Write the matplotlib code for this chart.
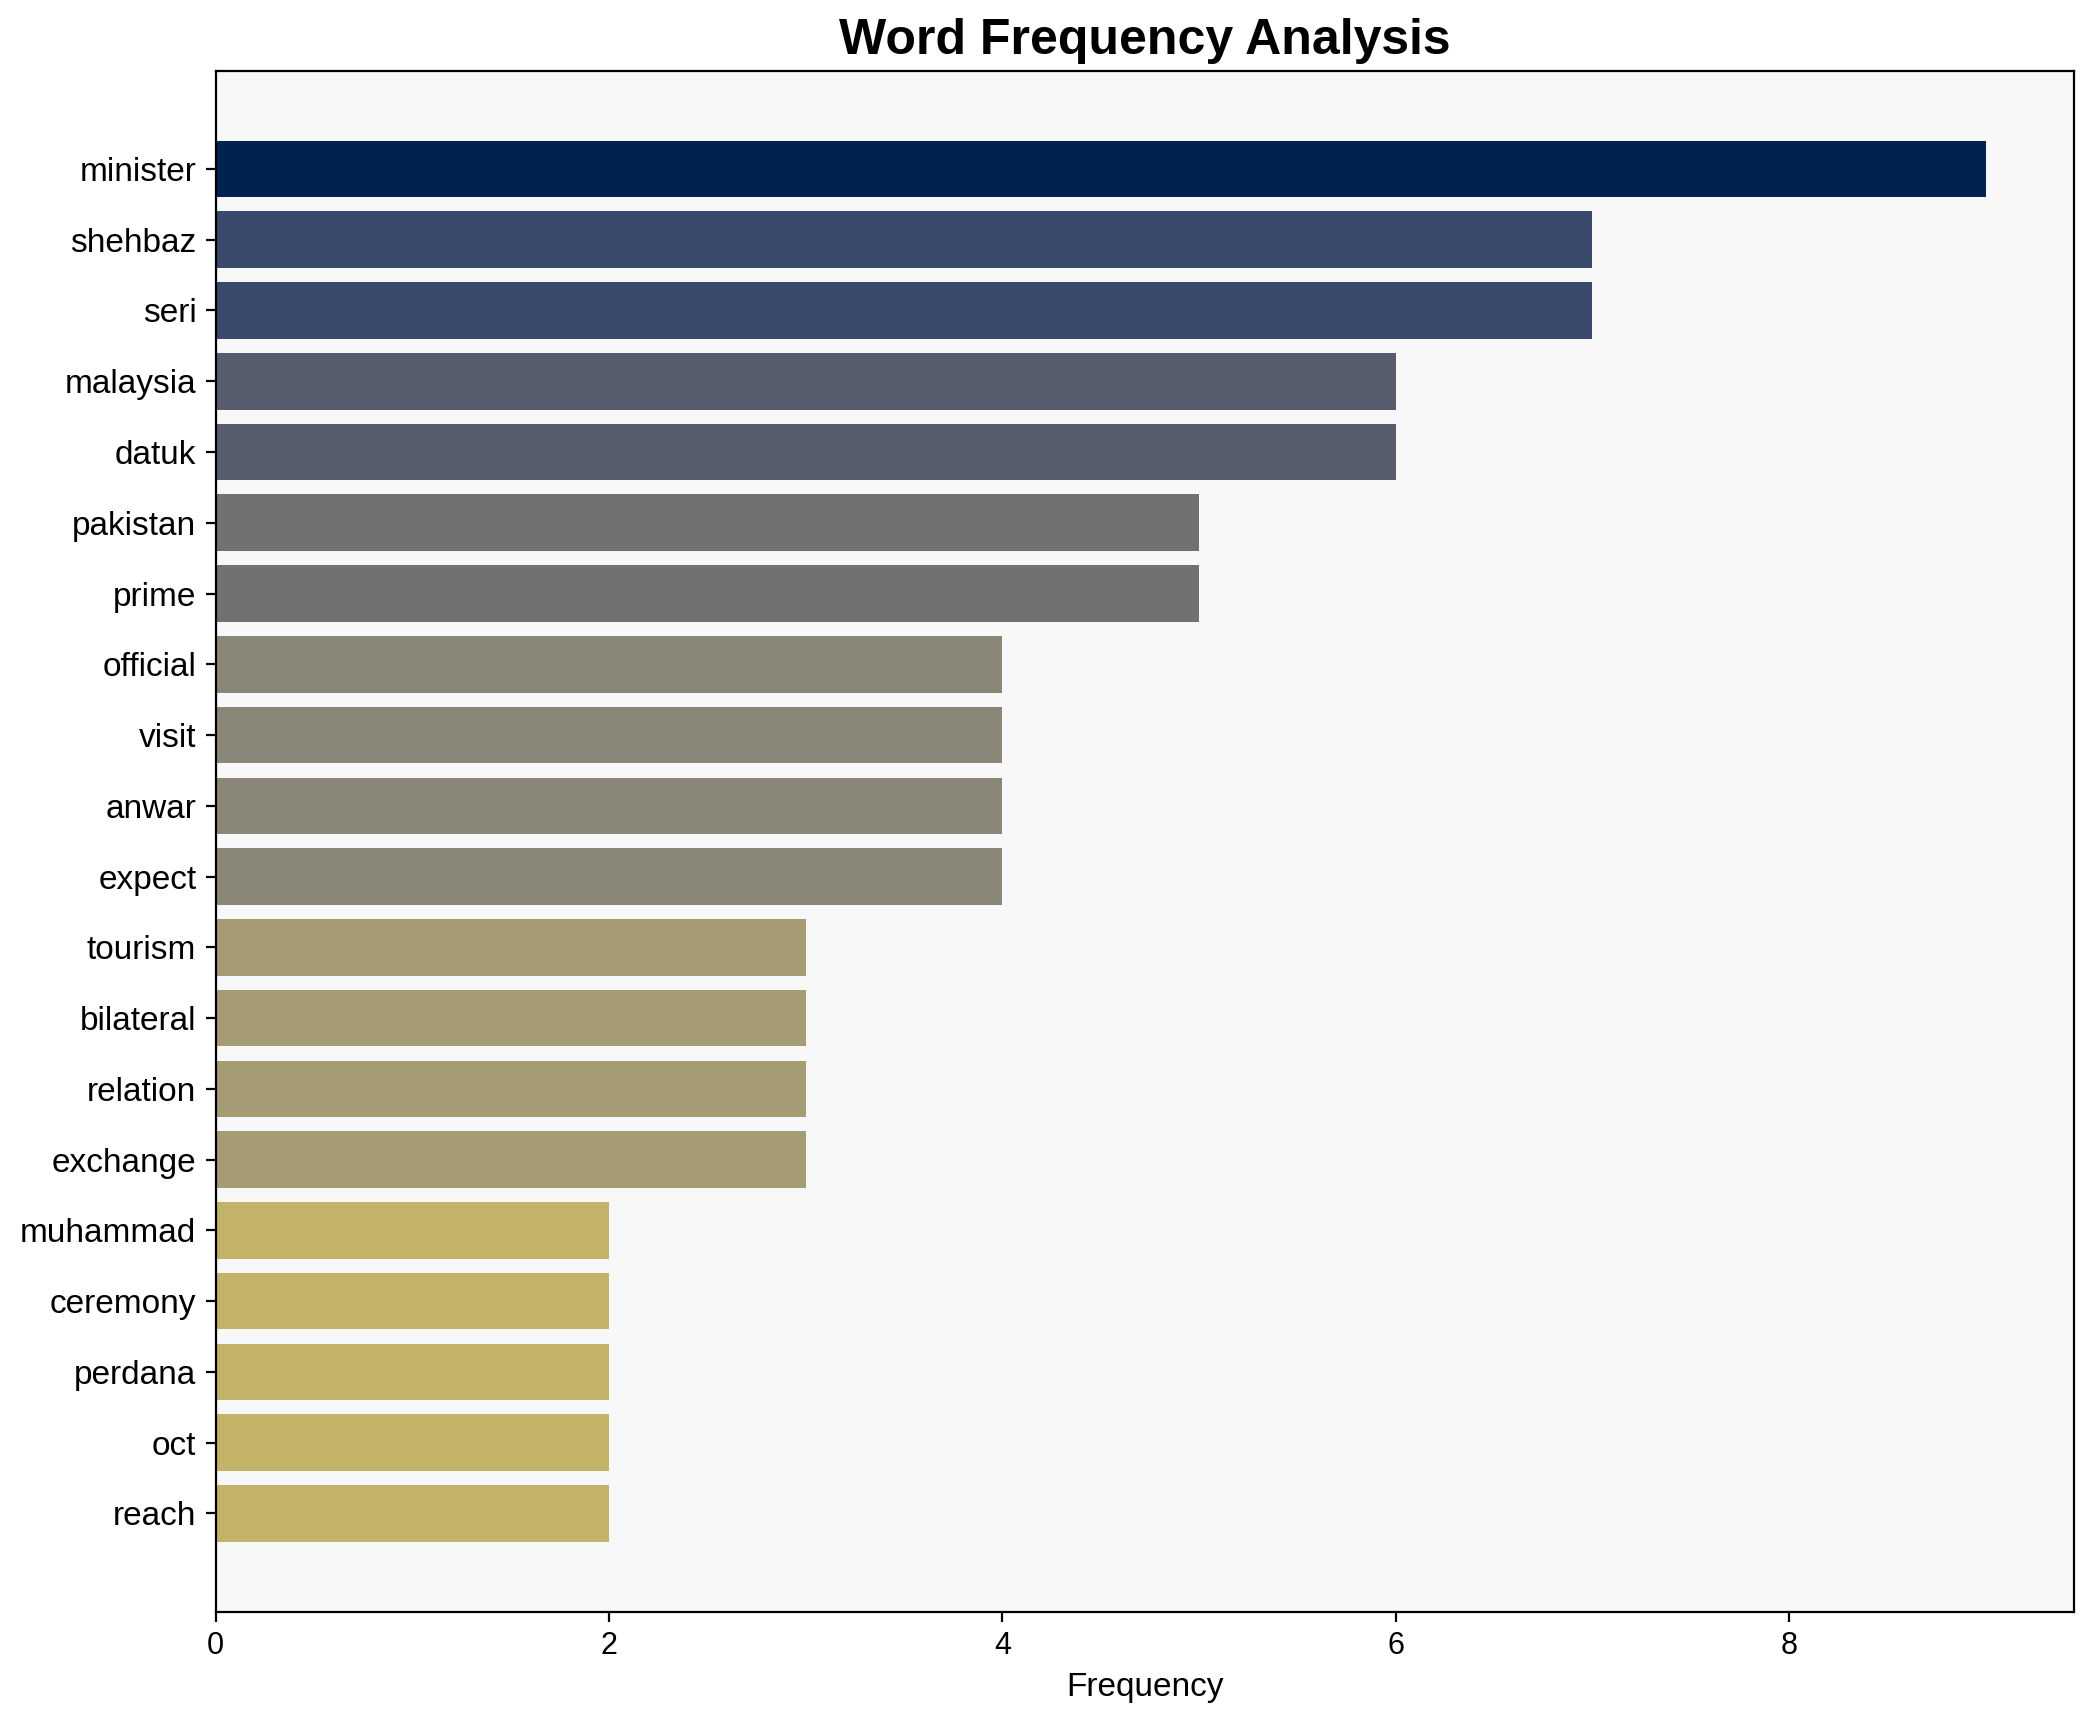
import numpy as np
import matplotlib
matplotlib.use("Agg")
import matplotlib.pyplot as plt

plt.rcParams['font.family'] = ['Liberation Sans', 'DejaVu Sans']

words = ['minister', 'shehbaz', 'seri', 'malaysia', 'datuk', 'pakistan', 'prime',
         'official', 'visit', 'anwar', 'expect', 'tourism', 'bilateral', 'relation',
         'exchange', 'muhammad', 'ceremony', 'perdana', 'oct', 'reach']
counts = [9, 7, 7, 6, 6, 5, 5, 4, 4, 4, 4, 3, 3, 3, 3, 2, 2, 2, 2, 2]

vals = np.array(counts)
colors = plt.cm.cividis(1 - vals / vals.max())  # darker = more frequent

fig, ax = plt.subplots(figsize=(10.475, 8.61), dpi=200)
ax.set_facecolor('#f8f8f8')
ypos = np.arange(len(words))
ax.barh(ypos, vals, height=0.8, color=colors)
ax.set_yticks(ypos)
ax.set_yticklabels(words, fontsize=12)
ax.invert_yaxis()
ax.tick_params(axis='x', labelsize=11)
ax.set_xlabel('Frequency', fontsize=12)
ax.set_title('Word Frequency Analysis', fontsize=18, fontweight='bold')
for s in ax.spines.values():
    s.set_color('black')

plt.subplots_adjust(left=0.103, right=0.990, top=0.959, bottom=0.064)
plt.savefig('out.png', dpi=200)
